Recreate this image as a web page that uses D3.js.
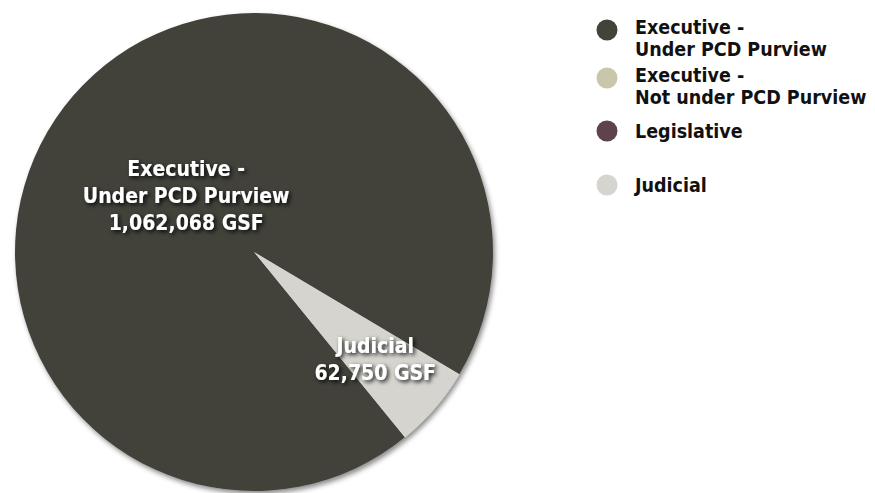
<!DOCTYPE html>
<html>
<head>
<meta charset="utf-8">
<script src="https://cdn.jsdelivr.net/npm/d3@7"></script>
<style>
  body { margin: 0; background: #fff; }
  text { font-family: "Liberation Sans Narrow", "DejaVu Sans Condensed", "Arial Narrow", sans-serif; font-weight: bold; }
</style>
</head>
<body>
<div id="container"></div>
<script>
let w = 875;
let h = 493;

// data
let categories = ["Executive - Under PCD Purview", "Executive - Not under PCD Purview", "Legislative", "Judicial"];
let legendLines = [["Executive -", "Under PCD Purview"], ["Executive -", "Not under PCD Purview"], ["Legislative"], ["Judicial"]];
let values = [1062068, 0, 0, 62750];
let colors = ["#43433a", "#c9c7ab", "#5f434a", "#d5d4ce"];
let sliceLabels = [["Executive -", "Under PCD Purview", "1,062,068 GSF"], [], [], ["Judicial", "62,750 GSF"]];

let cx = 254;
let cy = 252;
let radius = 239;
let startDeg = 140.85;

let viz = d3.select("#container")
  .append("svg")
  .attr("width", w)
  .attr("height", h)
  .style("background-color", "#fff");

let defs = viz.append("defs");
defs.append("filter")
  .attr("id", "pieShadow")
  .attr("x", "-10%").attr("y", "-10%").attr("width", "120%").attr("height", "120%")
  .append("feDropShadow")
  .attr("dx", 2).attr("dy", 3).attr("stdDeviation", 2.5)
  .attr("flood-color", "#000").attr("flood-opacity", 0.45);
defs.append("filter")
  .attr("id", "textShadow")
  .attr("x", "-10%").attr("y", "-20%").attr("width", "130%").attr("height", "150%")
  .append("feDropShadow")
  .attr("dx", 2).attr("dy", 2).attr("stdDeviation", 2)
  .attr("flood-color", "#000").attr("flood-opacity", 0.9);

let pie = d3.pie()
  .sort(null)
  .value(d => d)
  .startAngle(startDeg * Math.PI / 180)
  .endAngle((startDeg + 360) * Math.PI / 180);

let arcs = pie(values);
let arc = d3.arc().innerRadius(0).outerRadius(radius);

let pieGroup = viz.append("g")
  .attr("transform", `translate(${cx}, ${cy})`);

pieGroup.append("g")
  .attr("filter", "url(#pieShadow)")
  .selectAll("path")
  .data(arcs.filter(d => d.value > 0))
  .enter()
  .append("path")
  .attr("d", arc)
  .attr("fill", d => colors[d.index]);

// slice labels
let labelArcExec = d3.arc().innerRadius(0).outerRadius(radius * 0.75);
let labelArcJud = d3.arc().innerRadius(0).outerRadius(radius * 1.34);
let lineH = 27;

arcs.forEach(d => {
  if (d.value <= 0) return;
  let lines = sliceLabels[d.index];
  let pos = (d.index === 0 ? labelArcExec : labelArcJud).centroid(d);
  let t = pieGroup.append("text")
    .attr("x", pos[0])
    .attr("y", pos[1] + 3 - (lines.length - 1) * lineH / 2)
    .attr("text-anchor", "middle")
    .attr("dominant-baseline", "central")
    .attr("fill", "#fff")
    .attr("font-size", "21px")
    .attr("filter", "url(#textShadow)");
  lines.forEach((l, i) => {
    t.append("tspan")
      .attr("x", pos[0])
      .attr("dy", i === 0 ? 0 : lineH)
      .text(l);
  });
});

// legend
let legendY = [30, 78, 131, 185];
let legend = viz.append("g").attr("class", "legend");
categories.forEach((c, i) => {
  let g = legend.append("g").attr("transform", `translate(607, ${legendY[i]})`);
  g.append("circle").attr("r", 10.5).attr("fill", colors[i]);
  let t = g.append("text")
    .attr("x", 28)
    .attr("y", legendLines[i].length > 1 ? -3 : 0)
    .attr("dominant-baseline", "central")
    .attr("font-size", "19.5px")
    .attr("fill", "#111");
  legendLines[i].forEach((l, j) => {
    t.append("tspan").attr("x", 28).attr("dy", j === 0 ? 0 : 22).text(l);
  });
});
</script>
</body>
</html>
